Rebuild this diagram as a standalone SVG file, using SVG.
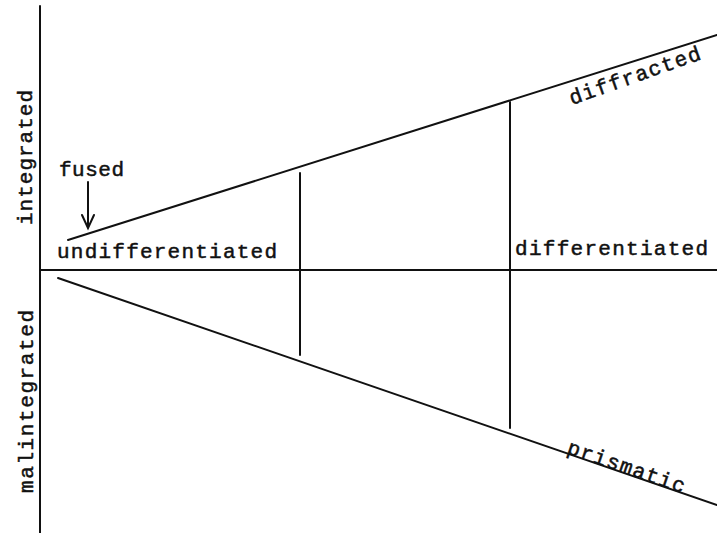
<svg xmlns="http://www.w3.org/2000/svg" width="717" height="533" viewBox="0 0 717 533">
<style>
  .ln { stroke: #111; stroke-width: 2; fill: none; stroke-linecap: round; }
  .t { font-family: "Liberation Mono", "DejaVu Sans Mono", monospace; font-size: 21px; fill: #111; stroke: #111; stroke-width: 0.5; }
</style>
<rect width="717" height="533" fill="#fff"/>
<g id="axes">
  <line class="ln" x1="40" y1="6" x2="40" y2="533"/>
  <line class="ln" x1="40" y1="270" x2="717" y2="270"/>
</g>
<g id="connectors">
  <line class="ln" x1="68" y1="240" x2="717" y2="35"/>
  <line class="ln" x1="58" y1="278" x2="717" y2="505"/>
  <line class="ln" x1="300" y1="173" x2="300" y2="355"/>
  <line class="ln" x1="510" y1="102" x2="510" y2="428"/>
  <line class="ln" x1="88" y1="182" x2="88" y2="227"/>
  <polyline class="ln" points="82,215 88,228 94,215"/>
</g>
<g id="labels">
  <text class="t" x="59" y="176" textLength="65" lengthAdjust="spacing">fused</text>
  <text class="t" x="57" y="258" textLength="220" lengthAdjust="spacing">undifferentiated</text>
  <text class="t" x="515" y="255" textLength="193" lengthAdjust="spacing">differentiated</text>
  <text class="t" transform="translate(32,225) rotate(-90)" textLength="135" lengthAdjust="spacing">integrated</text>
  <text class="t" transform="translate(33,493) rotate(-90)" textLength="183" lengthAdjust="spacing">malintegrated</text>
  <text class="t" transform="translate(572,105) rotate(-19.5)" textLength="138" lengthAdjust="spacing">diffracted</text>
  <text class="t" transform="translate(566,453) rotate(19)" textLength="123" lengthAdjust="spacing">prismatic</text>
</g>
</svg>
